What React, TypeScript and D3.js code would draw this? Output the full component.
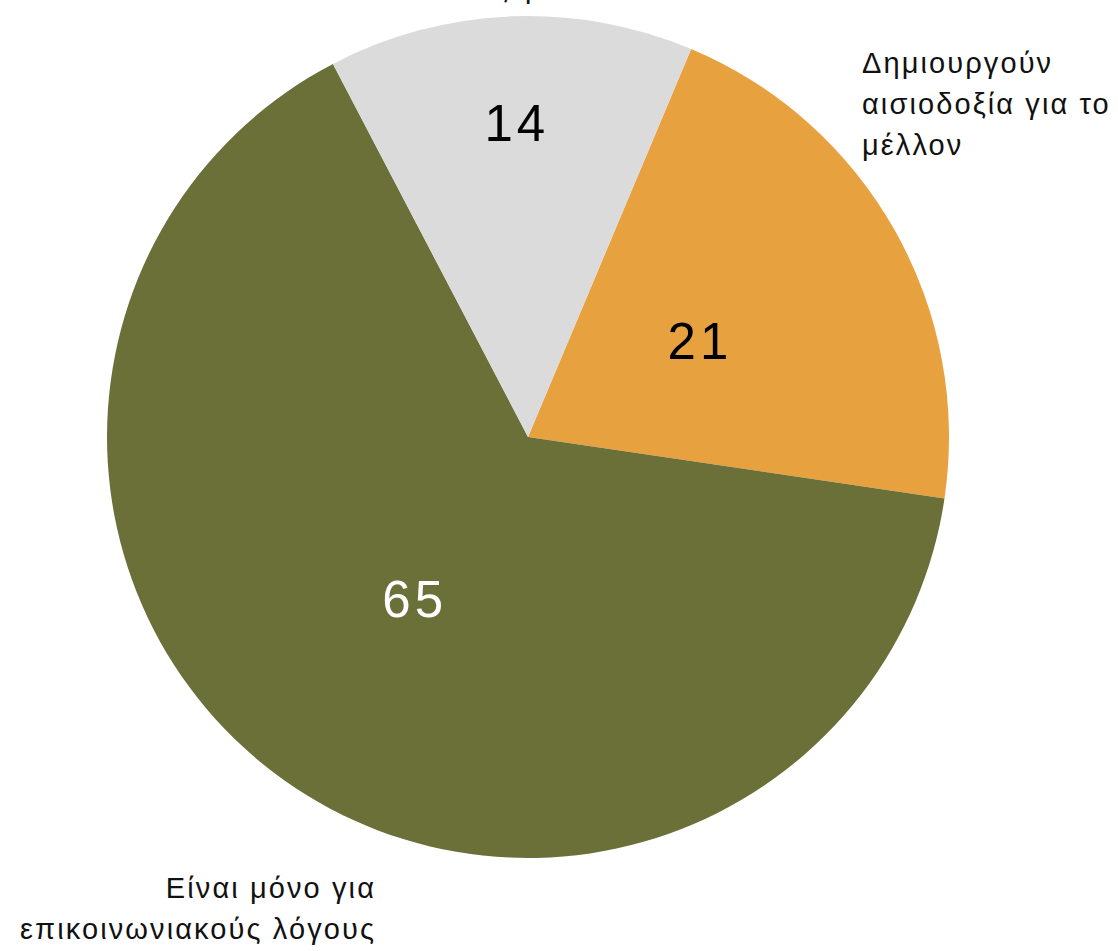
import React from "react";
import * as d3 from "d3";

const categories = ["Δημιουργούν αισιοδοξία για το μέλλον", "Είναι μόνο για επικοινωνιακούς λόγους", "Δεν ξέρω / Δεν απαντώ"];
const values = [21, 65, 14];
const colors = ["#E8A13F", "#6B7039", "#DBDBDB"];
const valueColors = ["#000000", "#ffffff", "#000000"];
const labelRadii = [195, 199, 314];

const W = 1118, H = 951;
const cx = 528, cy = 437, R = 421;
const startDeg = 22.8;

export default function App() {
  const pie = d3.pie<number>().sort(null).value(d => d)
    .startAngle(startDeg * Math.PI / 180)
    .endAngle(startDeg * Math.PI / 180 + 2 * Math.PI);
  const arcs = pie(values);
  const arc = d3.arc<d3.PieArcDatum<number>>().innerRadius(0).outerRadius(R);
  const font = "'Liberation Sans', Arial, sans-serif";
  return (
    <svg width={W} height={H} style={{ position: "absolute", left: 0, top: 0 }} fontFamily={font}>
      <g transform={`translate(${cx},${cy})`}>
        {arcs.map((a, i) => (
          <path key={i} d={arc(a) || ""} fill={colors[i]} />
        ))}
        {arcs.map((a, i) => {
          const m = (a.startAngle + a.endAngle) / 2;
          const r = labelRadii[i];
          const x = Math.sin(m) * r, y = -Math.cos(m) * r;
          return (
            <text key={i} x={x + 2} y={y} dy="0.35em" textAnchor="middle" fontSize={51} letterSpacing={4} fill={valueColors[i]}>{values[i]}</text>
          );
        })}
      </g>
      <text fontSize={29} letterSpacing={2.1} fill="#111">
        <tspan x={862} y={73}>Δημιουργούν</tspan>
        <tspan x={862} y={114}>αισιοδοξία για το</tspan>
        <tspan x={862} y={155}>μέλλον</tspan>
      </text>
      <text fontSize={29} letterSpacing={2.1} fill="#111" textAnchor="end">
        <tspan x={376} y={898}>Είναι μόνο για</tspan>
        <tspan x={376} y={939}>επικοινωνιακούς λόγους</tspan>
      </text>
      <text fontSize={29} letterSpacing={2.1} fill="#111" textAnchor="middle">
        <tspan x={603} y={-2}>Δεν ξέρω / Δεν απαντώ</tspan>
      </text>
    </svg>
  );
}
